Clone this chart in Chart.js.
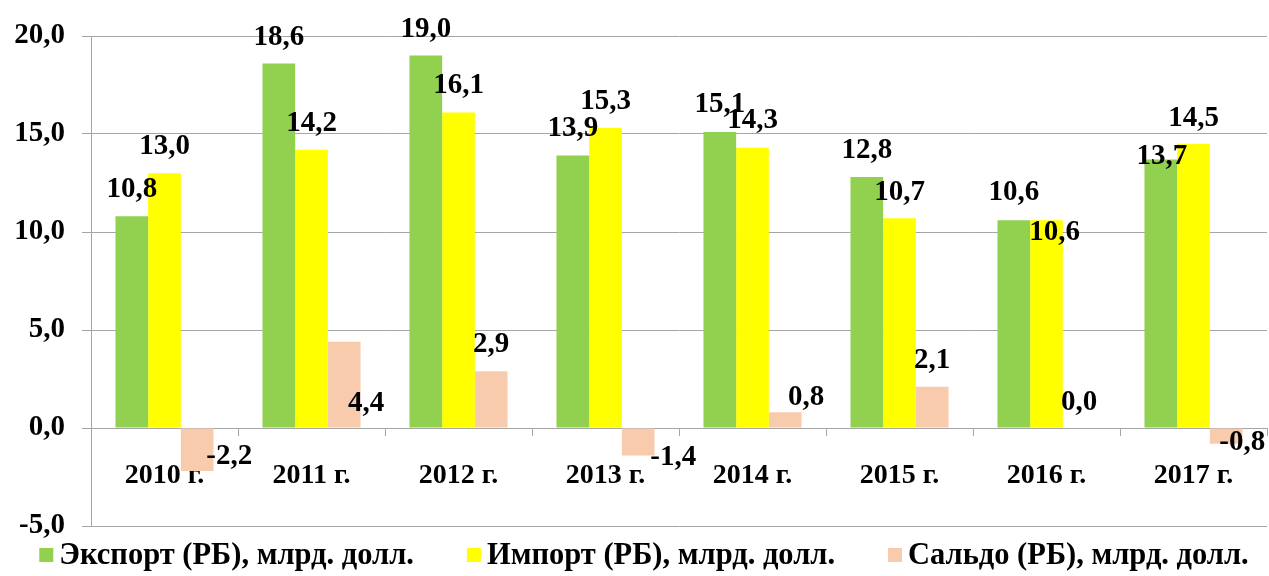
<!DOCTYPE html>
<html>
<head>
<meta charset="utf-8">
<script src="https://cdn.jsdelivr.net/npm/chart.js@4/dist/chart.umd.min.js"></script>
<style>
  html, body { margin: 0; padding: 0; background: #fff; }
  #wrap { width: 1269px; height: 576px; }
</style>
</head>
<body>
<div id="wrap"><canvas id="trade-chart"></canvas></div>
<script>
const categories = ["2010 г.", "2011 г.", "2012 г.", "2013 г.", "2014 г.", "2015 г.", "2016 г.", "2017 г."];
const exportValues = [10.8, 18.6, 19.0, 13.9, 15.1, 12.8, 10.6, 13.7];
const importValues = [13.0, 14.2, 16.1, 15.3, 14.3, 10.7, 10.6, 14.5];
const saldoValues = [-2.2, 4.4, 2.9, -1.4, 0.8, 2.1, 0.0, -0.8];
const seriesNames = [
  "Экспорт (РБ), млрд. долл.",
  "Импорт (РБ), млрд. долл.",
  "Сальдо (РБ), млрд. долл."
];
const yMin = -5;
const yMax = 20;
const yStep = 5;

// label nudges [dx, dy] from the end of each bar (placement only)
const exportNudge = [[0,-29],[0,-28],[0,-29],[0,-30],[0,-30],[0,-29],[0,-30],[1,-5]];
const importNudge = [[0,-29],[0,-29],[0,-29],[0,-29],[0,-30],[0,-28],[8,10],[0,-28]];
const saldoNudge  = [[32,-17],[22,59],[0,-29],[35,0],[21,-17],[0,-29],[0,-28],[16,-4]];

const FONT = "'Liberation Serif', 'Times New Roman', serif";
const GRID = "#a6a6a6";
const fmt = (v) => v.toFixed(1).replace(".", ",");

const barLabels = {
  id: "barLabels",
  afterDatasetsDraw(chart) {
    const ctx = chart.ctx;
    const nudges = [exportNudge, importNudge, saldoNudge];
    ctx.save();
    ctx.font = "bold 29px " + FONT;
    ctx.fillStyle = "#000";
    ctx.textAlign = "center";
    ctx.textBaseline = "alphabetic";
    chart.data.datasets.forEach((ds, di) => {
      const meta = chart.getDatasetMeta(di);
      meta.data.forEach((bar, i) => {
        const n = nudges[di][i];
        ctx.fillText(fmt(ds.data[i]), bar.x + n[0], bar.y + n[1] + 10);
      });
    });
    ctx.restore();
  }
};

// legend row under the plot, drawn by hand for tighter spacing control
const bottomLegend = {
  id: "bottomLegend",
  afterDraw(chart) {
    const ctx = chart.ctx;
    const box = 14, gapText = 6, gapItem = 53, midY = 555;
    ctx.save();
    ctx.font = "bold 30.5px " + FONT;
    const items = chart.data.datasets.map((ds) => ({
      text: ds.label, color: ds.backgroundColor, w: ctx.measureText(ds.label).width
    }));
    const total = items.reduce((s, it) => s + box + gapText + it.w, 0) + gapItem * (items.length - 1);
    let x = 644 - total / 2;
    ctx.textBaseline = "middle";
    ctx.textAlign = "left";
    items.forEach((it) => {
      ctx.fillStyle = it.color;
      ctx.fillRect(x, midY - box / 2, box, box);
      x += box + gapText;
      ctx.fillStyle = "#000";
      ctx.fillText(it.text, x, midY + 1);
      x += it.w + gapItem;
    });
    ctx.restore();
  }
};

const config = {
  type: "bar",
  data: {
    labels: categories,
    datasets: [
      { label: seriesNames[0], data: exportValues, backgroundColor: "#92D050" },
      { label: seriesNames[1], data: importValues, backgroundColor: "#FFFF00" },
      { label: seriesNames[2], data: saldoValues, backgroundColor: "#F8CBAD" }
    ]
  },
  options: {
    responsive: true,
    maintainAspectRatio: false,
    animation: false,
    layout: { padding: { top: 36, right: 2, left: 0, bottom: 50 } },
    datasets: {
      bar: { barPercentage: 1, categoryPercentage: 0.667 }
    },
    plugins: {
      tooltip: { enabled: false },
      legend: { display: false }
    },
    scales: {
      x: {
        position: { y: 0 },
        grid: {
          drawOnChartArea: false,
          drawTicks: true,
          tickLength: 7,
          color: GRID,
          offset: true
        },
        border: { display: true, color: GRID },
        ticks: {
          color: "#000",
          padding: 24,
          maxRotation: 0,
          font: { family: FONT, size: 28, weight: "bold" }
        }
      },
      y: {
        min: yMin,
        max: yMax,
        afterFit: (s) => { s.width = 91; },
        grid: { color: GRID, tickLength: 9 },
        border: { display: true, color: GRID },
        ticks: {
          stepSize: yStep,
          color: "#000",
          padding: 17,
          font: { family: FONT, size: 29, weight: "bold" },
          callback: (v) => fmt(v)
        }
      }
    }
  },
  plugins: [barLabels, bottomLegend]
};

new Chart(document.getElementById("trade-chart"), config);
</script>
</body>
</html>
